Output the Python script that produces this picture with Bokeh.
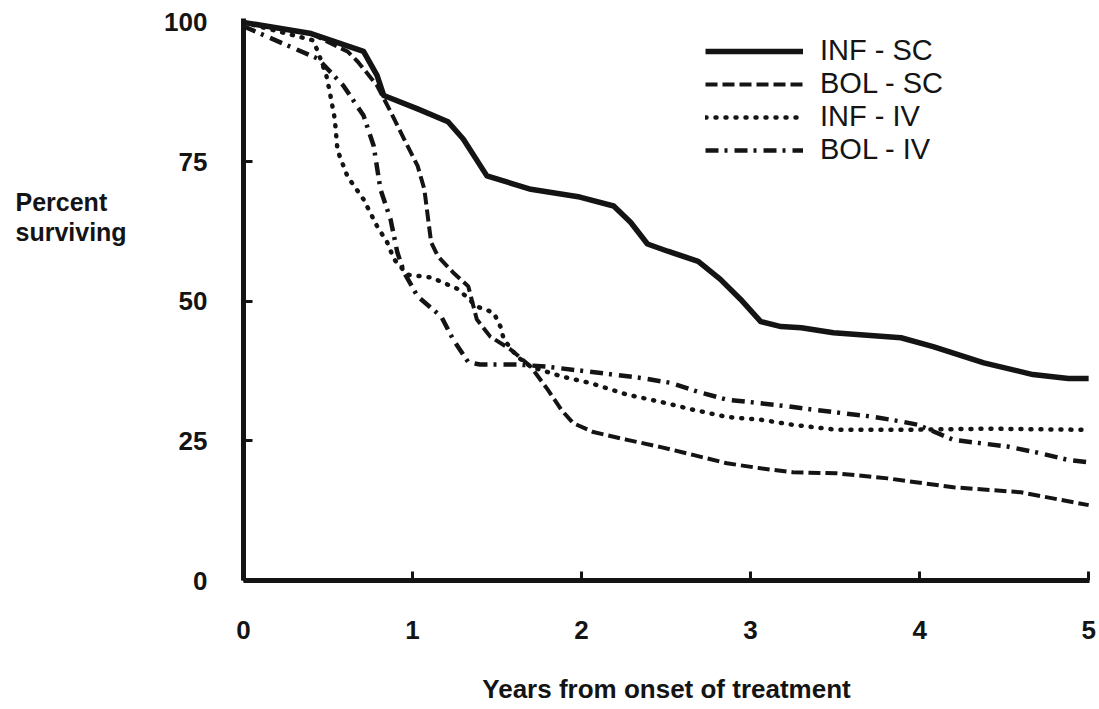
from bokeh.plotting import figure
from bokeh.layouts import row
from bokeh.models import Range1d, FixedTicker, Legend, LegendItem
from bokeh.core.properties import value
from bokeh.embed import file_html
from bokeh.resources import INLINE

# ---- data ----
x_ticks = [0, 1, 2, 3, 4, 5]
y_ticks = [0, 25, 50, 75, 100]

inf_sc_years = [0, 0.40, 0.71, 0.79, 0.83, 1.03, 1.21, 1.30, 1.44, 1.70, 1.99, 2.19, 2.29, 2.39,
                2.51, 2.69, 2.82, 2.94, 3.06, 3.18, 3.30, 3.49, 3.89, 4.08, 4.38, 4.67, 4.88, 5.0]
inf_sc_pct = [100, 98.0, 94.8, 90.5, 86.9, 84.5, 82.2, 79.1, 72.5, 70.1, 68.7, 67.1, 64.2, 60.3,
              59.0, 57.2, 54.0, 50.4, 46.4, 45.5, 45.3, 44.4, 43.5, 41.9, 39.0, 36.9, 36.2, 36.2]

bol_sc_years = [0, 0.40, 0.615, 0.675, 0.79, 0.87, 0.95, 1.03, 1.07, 1.09, 1.11, 1.15, 1.24, 1.33,
                1.38, 1.46, 1.58, 1.70, 1.80, 1.88, 1.95, 2.07, 2.27, 2.47, 2.66, 2.86, 3.06, 3.25,
                3.51, 3.81, 4.20, 4.60, 5.0]
bol_sc_pct = [100, 98.0, 94.8, 93.0, 88.7, 84.0, 79.1, 74.3, 70.1, 65.3, 60.6, 58.1, 55.2, 52.7,
              46.8, 43.7, 41.4, 38.3, 34.2, 30.6, 28.2, 26.6, 25.2, 23.9, 22.5, 21.0, 20.1, 19.4,
              19.2, 18.3, 16.7, 15.8, 13.5]

inf_iv_years = [0, 0.41, 0.44, 0.49, 0.51, 0.54, 0.556, 0.615, 0.71, 0.79, 0.85, 0.89, 0.97, 1.11,
                1.27, 1.38, 1.48, 1.52, 1.54, 1.62, 1.70, 1.89, 2.05, 2.27, 2.47, 2.66, 2.86, 3.06,
                3.25, 3.51, 3.91, 4.40, 5.0]
inf_iv_pct = [100, 96.8, 94.8, 90.5, 87.6, 82.7, 77.1, 72.4, 68.3, 63.5, 60.6, 57.6, 54.8, 54.3,
              52.2, 49.1, 48.0, 45.5, 43.2, 40.1, 38.3, 36.5, 35.4, 33.3, 32.0, 30.6, 29.3, 28.8,
              27.9, 27.0, 27.0, 27.2, 27.0]

bol_iv_years = [0, 0.44, 0.59, 0.71, 0.77, 0.81, 0.87, 0.91, 0.95, 1.03, 1.17, 1.24, 1.33, 1.40,
                1.62, 1.80, 2.05, 2.35, 2.53, 2.69, 2.86, 3.02, 3.22, 3.37, 3.71, 3.89, 3.99, 4.20,
                4.52, 4.70, 4.88, 5.0]
bol_iv_pct = [99.3, 93.5, 88.7, 83.3, 77.9, 70.1, 64.7, 58.8, 55.2, 50.9, 47.3, 43.2, 39.1, 38.7,
              38.7, 38.3, 37.4, 36.3, 35.4, 33.8, 32.4, 31.9, 31.2, 30.6, 29.4, 28.5, 27.9, 25.2,
              24.0, 22.9, 21.6, 21.2]

series_names = ["INF - SC", "BOL - SC", "INF - IV", "BOL - IV"]
y_title_lines = ["Percent", "surviving"]
x_title = "Years from onset of treatment"

INK = "#141414"
FONT = "Liberation Sans"
TOP, BOTTOM = 18, 129

# ---- left strip holding the horizontal y-axis title (its y range = page pixels) ----
LEFT_W = 150
lab = figure(width=LEFT_W, height=709, output_backend="svg", toolbar_location=None,
             x_range=Range1d(0, LEFT_W), y_range=Range1d(709 - BOTTOM, TOP),
             min_border_left=0, min_border_right=0, min_border_top=TOP,
             min_border_bottom=BOTTOM, background_fill_color="white", border_fill_color="white")
lab.axis.visible = False
lab.grid.visible = False
lab.outline_line_color = None
lab.text(x=[15, 15], y=[201, 231], text=y_title_lines, text_font=value(FONT),
         text_font_style="bold", text_font_size="25px", text_color=INK,
         text_baseline="alphabetic", text_align="left")

# ---- main chart ----
p = figure(width=1099 - LEFT_W, height=709, output_backend="svg", toolbar_location=None,
           x_range=Range1d(0, 5.005), y_range=Range1d(0, 100.7),
           min_border_left=243 - LEFT_W, min_border_right=10, min_border_top=TOP,
           min_border_bottom=BOTTOM, background_fill_color="white", border_fill_color="white")
p.outline_line_color = None
p.grid.visible = False

r1 = p.line(inf_sc_years, inf_sc_pct, line_color=INK, line_width=5.5, line_join="round")
r2 = p.line(bol_sc_years, bol_sc_pct, line_color=INK, line_width=4, line_dash="12 5",
            line_join="round")
r3 = p.line(inf_iv_years, inf_iv_pct, line_color=INK, line_width=4.5, line_dash="1 9",
            line_cap="round", line_join="round")
r4 = p.line(bol_iv_years, bol_iv_pct, line_color=INK, line_width=4.5, line_dash="13 6 3 7",
            line_join="round")

for ax in (p.xaxis[0], p.yaxis[0]):
    ax.axis_line_color = INK
    ax.axis_line_width = 5
    ax.major_tick_line_color = INK
    ax.major_tick_line_width = 3
    ax.major_tick_in = 9
    ax.major_tick_out = 0
    ax.minor_tick_line_color = None
    ax.major_label_text_color = INK
    ax.major_label_text_font = FONT
    ax.major_label_text_font_style = "bold"
    ax.major_label_text_font_size = "26px"

p.xaxis.ticker = FixedTicker(ticks=x_ticks)
p.yaxis.ticker = FixedTicker(ticks=y_ticks)
p.yaxis.major_label_standoff = 36
p.xaxis.major_label_standoff = 40

p.xaxis.axis_label = x_title
p.xaxis.axis_label_text_font = FONT
p.xaxis.axis_label_text_font_style = "bold"
p.xaxis.axis_label_text_font_size = "26px"
p.xaxis.axis_label_text_color = INK
p.xaxis.axis_label_standoff = 32

legend = Legend(items=[LegendItem(label=n, renderers=[r]) for n, r in
                       zip(series_names, [r1, r2, r3, r4])],
                location=(462, 414), orientation="vertical",
                glyph_width=98, glyph_height=30, label_height=30, spacing=0,
                label_standoff=17, padding=0, margin=0,
                border_line_color=None, background_fill_alpha=0,
                label_text_font=FONT, label_text_font_size="29px",
                label_text_color=INK)
p.add_layout(legend)

layout = row(lab, p)
open("out.html", "w").write(file_html(layout, INLINE))
